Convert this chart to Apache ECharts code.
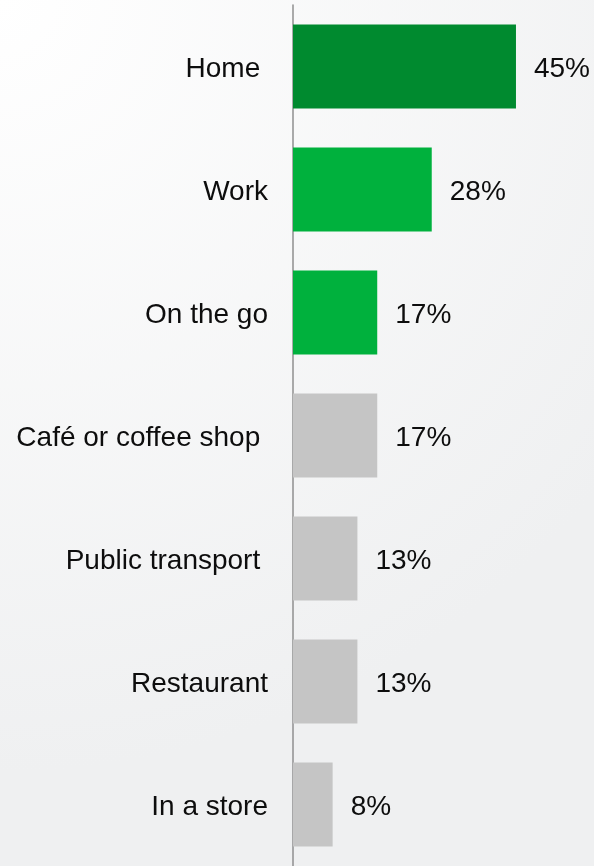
<!DOCTYPE html>
<html><head><meta charset="utf-8">
<script src="https://cdn.jsdelivr.net/npm/echarts@6/dist/echarts.min.js"></script>
<style>html,body{margin:0;padding:0;}#c{width:594px;height:866px;}</style>
</head><body><div id="c"></div>
<script>
const categories = ["Home ", "Work", "On the go", "Café or coffee shop ", "Public transport ", "Restaurant", "In a store"];
const values = [45, 28, 17, 17, 13, 13, 8];
const barColors = ["#008a2f", "#00b13d", "#00b13d", "#c5c5c5", "#c5c5c5", "#c5c5c5", "#c5c5c5"];

const chart = echarts.init(document.getElementById('c'), null, {renderer: 'canvas'});
chart.setOption({
  animation: false,
  backgroundColor: {
    type: 'radial', x: 0, y: 0, r: 1.3,
    colorStops: [{offset: 0, color: '#ffffff'}, {offset: 1, color: '#eff0f1'}]
  },
  grid: {left: 293, top: 5, width: 297.3, height: 863, containLabel: false},
  xAxis: {type: 'value', min: 0, max: 60, show: false},
  yAxis: {
    type: 'category', data: categories, inverse: true,
    axisLine: {show: true, lineStyle: {color: '#8f8f8f', width: 1.5}},
    axisTick: {show: false},
    axisLabel: {margin: 25, color: '#0d0d0d',
      formatter: v => '{a|' + v + '}',
      rich: {a: {fontSize: 28, color: '#0d0d0d', padding: [6, 0, 0, 0],
        fontFamily: 'Liberation Sans, Arial, sans-serif'}}}
  },
  series: [{
    type: 'bar', barWidth: 84,
    data: values.map((v, i) => ({value: v, itemStyle: {color: barColors[i]}})),
    label: {show: true, position: 'right', distance: 18, offset: [0, 3], fontSize: 28, color: '#0d0d0d',
      fontFamily: 'Liberation Sans, Arial, sans-serif', formatter: p => p.value + '%'}
  }]
});
</script></body></html>
